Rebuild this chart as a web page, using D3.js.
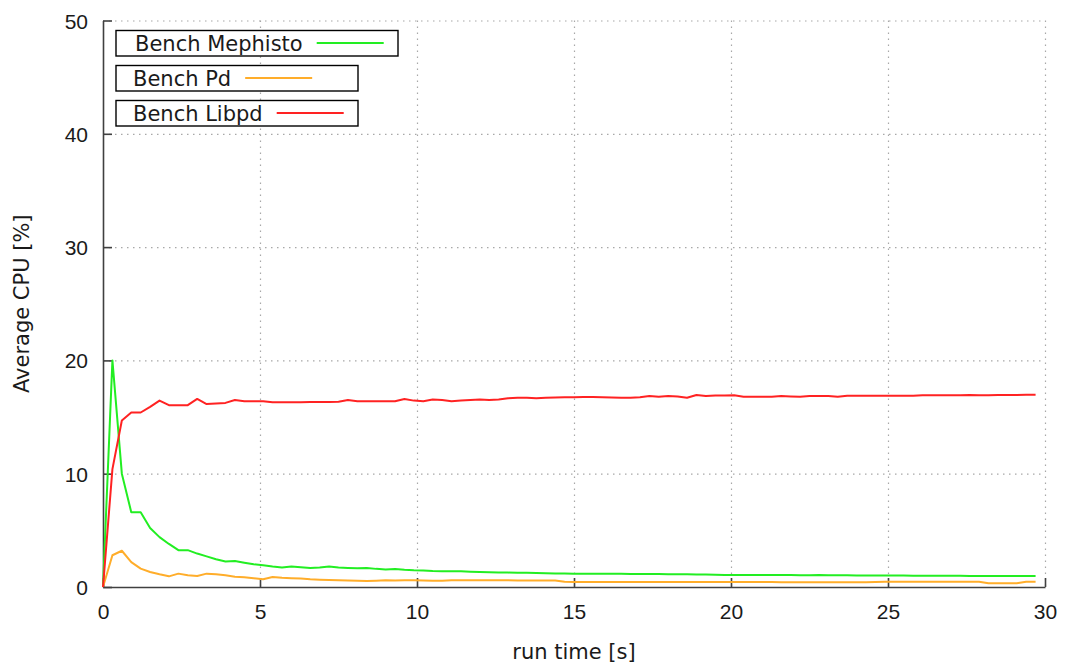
<!DOCTYPE html>
<html>
<head>
<meta charset="utf-8">
<script src="https://cdn.jsdelivr.net/npm/d3@7"></script>
<style>
	body { margin: 0; background: #fff; }
	svg { display: block; font-family: "DejaVu Sans", sans-serif; }
	.tick text { fill: #1a1a1a; font-size: 21px; }
	.grid line { stroke: #a8a8a8; stroke-width: 1.2; stroke-dasharray: 1.5,4.5; }
	.grid path { display: none; }
</style>
</head>
<body>
<script>
"use strict";

// sample times [s]
const runTime = [
	0, 0.3, 0.6, 0.9, 1.2, 1.5, 1.8, 2.1, 2.4, 2.7,
	3.0, 3.3, 3.6, 3.9, 4.2, 4.5, 4.8, 5.1, 5.4, 5.7,
	6.0, 6.3, 6.6, 6.9, 7.2, 7.5, 7.8, 8.1, 8.4, 8.7,
	9.0, 9.3, 9.6, 9.9, 10.2, 10.5, 10.8, 11.1, 11.4, 11.7,
	12.0, 12.3, 12.6, 12.9, 13.2, 13.5, 13.8, 14.1, 14.4, 14.7,
	15.0, 15.3, 15.6, 15.9, 16.2, 16.5, 16.8, 17.1, 17.4, 17.7,
	18.0, 18.3, 18.6, 18.9, 19.2, 19.5, 19.8, 20.1, 20.4, 20.7,
	21.0, 21.3, 21.6, 21.9, 22.2, 22.5, 22.8, 23.1, 23.4, 23.7,
	24.0, 24.3, 24.6, 24.9, 25.2, 25.5, 25.8, 26.1, 26.4, 26.7,
	27.0, 27.3, 27.6, 27.9, 28.2, 28.5, 28.8, 29.1, 29.4, 29.7
];

const mephisto = [
	0, 20, 10, 6.6, 6.6, 5.2, 4.4, 3.8, 3.25, 3.25,
	2.95, 2.7, 2.45, 2.25, 2.3, 2.15, 2.0, 1.92, 1.8, 1.72,
	1.8, 1.75, 1.68, 1.72, 1.8, 1.72, 1.68, 1.65, 1.68, 1.6,
	1.55, 1.58, 1.52, 1.48, 1.46, 1.42, 1.4, 1.38, 1.38, 1.35,
	1.32, 1.3, 1.28, 1.27, 1.26, 1.25, 1.23, 1.22, 1.2, 1.2,
	1.18, 1.17, 1.17, 1.18, 1.17, 1.16, 1.15, 1.14, 1.15, 1.14,
	1.13, 1.12, 1.12, 1.1, 1.1, 1.08, 1.07, 1.05, 1.05, 1.06,
	1.05, 1.05, 1.06, 1.05, 1.04, 1.04, 1.05, 1.04, 1.03, 1.03,
	1.02, 1.02, 1.02, 1.02, 1.01, 1.01, 1.0, 1.0, 1.0, 1.0,
	1.0, 0.99, 0.98, 0.96, 0.96, 0.96, 0.96, 0.97, 0.97, 0.98
];

const pd = [
	0, 2.8, 3.2, 2.2, 1.62, 1.33, 1.12, 0.94, 1.18, 1.03,
	0.97, 1.18, 1.12, 1.03, 0.9, 0.85, 0.78, 0.68, 0.88, 0.82,
	0.78, 0.74, 0.68, 0.65, 0.62, 0.6, 0.58, 0.55, 0.53, 0.56,
	0.6, 0.58, 0.59, 0.59, 0.58, 0.56, 0.55, 0.6, 0.6, 0.6,
	0.6, 0.6, 0.59, 0.59, 0.58, 0.58, 0.57, 0.57, 0.57, 0.46,
	0.45, 0.45, 0.45, 0.45, 0.45, 0.45, 0.45, 0.45, 0.45, 0.45,
	0.45, 0.45, 0.45, 0.45, 0.45, 0.45, 0.45, 0.45, 0.44, 0.44,
	0.44, 0.44, 0.43, 0.43, 0.43, 0.43, 0.42, 0.42, 0.42, 0.42,
	0.42, 0.43, 0.45, 0.47, 0.47, 0.47, 0.47, 0.47, 0.47, 0.47,
	0.47, 0.47, 0.47, 0.47, 0.33, 0.33, 0.33, 0.33, 0.47, 0.47
];

const libpd = [
	0, 10.4, 14.7, 15.4, 15.4, 15.9, 16.45, 16.05, 16.05, 16.05,
	16.6, 16.15, 16.2, 16.25, 16.5, 16.4, 16.4, 16.4, 16.3, 16.3,
	16.3, 16.3, 16.32, 16.32, 16.32, 16.35, 16.5, 16.4, 16.4, 16.4,
	16.4, 16.4, 16.6, 16.45, 16.4, 16.55, 16.5, 16.4, 16.45, 16.5,
	16.55, 16.5, 16.55, 16.65, 16.7, 16.7, 16.65, 16.7, 16.72, 16.75,
	16.75, 16.78, 16.78, 16.75, 16.72, 16.7, 16.7, 16.75, 16.85, 16.8,
	16.85, 16.82, 16.7, 16.95, 16.85, 16.9, 16.9, 16.92, 16.8, 16.8,
	16.8, 16.8, 16.85, 16.82, 16.8, 16.85, 16.85, 16.85, 16.8, 16.88,
	16.88, 16.88, 16.88, 16.88, 16.88, 16.88, 16.88, 16.93, 16.93, 16.92,
	16.93, 16.93, 16.95, 16.92, 16.93, 16.95, 16.95, 16.95, 16.97, 16.97
];

const seriesNames = ["Bench Mephisto", "Bench Pd", "Bench Libpd"];
const seriesColors = ["#22ee22", "#ffad2a", "#ff2222"];
const seriesValues = [mephisto, pd, libpd];

const xTicks = [0, 5, 10, 15, 20, 25, 30];
const yTicks = [0, 10, 20, 30, 40, 50];
const xTitle = "run time [s]";
const yTitle = "Average CPU [%]";

const W = 1066, H = 668;
const margin = {left: 103, right: 21, top: 20.5, bottom: 81};
const plotW = W - margin.left - margin.right;
const plotH = H - margin.top - margin.bottom;
const fontSize = "21px";

const svg = d3.select("body").append("svg").attr("width", W).attr("height", H);
const g = svg.append("g").attr("transform", `translate(${margin.left},${margin.top})`);

const x = d3.scaleLinear().domain([0, 30]).range([0, plotW]);
const y = d3.scaleLinear().domain([0, 50]).range([plotH, 0]);

// dotted grid, including the x=30 and y=50 edges (gnuplot border 3)
g.append("g").attr("class", "grid")
	.call(d3.axisBottom(x).tickValues(xTicks.slice(1)).tickSize(plotH).tickFormat(""));
g.append("g").attr("class", "grid")
	.call(d3.axisLeft(y).tickValues(yTicks.slice(1)).tickSize(-plotW).tickFormat(""));

// axes with inward ticks
const xAxis = g.append("g").attr("transform", `translate(0,${plotH})`)
	.call(d3.axisBottom(x).tickValues(xTicks).tickFormat(d3.format("d")).tickSize(-9).tickPadding(32).tickSizeOuter(0));
const yAxis = g.append("g")
	.call(d3.axisLeft(y).tickValues(yTicks).tickFormat(d3.format("d")).tickSize(-9).tickPadding(15).tickSizeOuter(0));
for (let ax of [xAxis, yAxis]) {
	ax.select(".domain").attr("stroke", "#404040").attr("stroke-width", 1.6);
	ax.selectAll(".tick line").attr("stroke", "#404040").attr("stroke-width", 1.6);
}
xAxis.selectAll(".tick text").attr("dy", "0");
yAxis.selectAll(".tick text").attr("dy", "0.36em");

// series lines
const line = d3.line()
	.x((d, i) => x(runTime[i]))
	.y(d => y(d));
seriesValues.forEach((vals, k) => {
	g.append("path")
		.datum(vals)
		.attr("fill", "none")
		.attr("stroke", seriesColors[k])
		.attr("stroke-width", 2)
		.attr("stroke-linejoin", "round")
		.attr("d", line);
});

// axis titles
svg.append("text")
	.attr("x", margin.left + plotW / 2).attr("y", 659)
	.attr("text-anchor", "middle").attr("fill", "#1a1a1a").style("font-size", fontSize)
	.text(xTitle);
svg.append("text")
	.attr("transform", `translate(29,${margin.top + plotH / 2}) rotate(-90)`)
	.attr("text-anchor", "middle").attr("fill", "#1a1a1a").style("font-size", fontSize)
	.text(yTitle);

// legend: one framed box per entry
const legendBoxW = [282, 242, 242];
seriesNames.forEach((name, k) => {
	const top = 30.5 + k * 35;
	const item = svg.append("g").attr("transform", `translate(116,${top})`);
	item.append("rect")
		.attr("width", legendBoxW[k]).attr("height", 25.5)
		.attr("fill", "#fff").attr("stroke", "#000").attr("stroke-width", 1.4);
	const textX = k === 0 ? 19 : 17;
	const label = item.append("text")
		.attr("x", textX).attr("y", 20)
		.attr("fill", "#1a1a1a").style("font-size", fontSize)
		.text(name);
	const textEnd = textX + label.node().getComputedTextLength();
	item.append("line")
		.attr("x1", textEnd + 14).attr("x2", textEnd + 81)
		.attr("y1", 12.5).attr("y2", 12.5)
		.attr("stroke", seriesColors[k]).attr("stroke-width", 2);
});
</script>
</body>
</html>
